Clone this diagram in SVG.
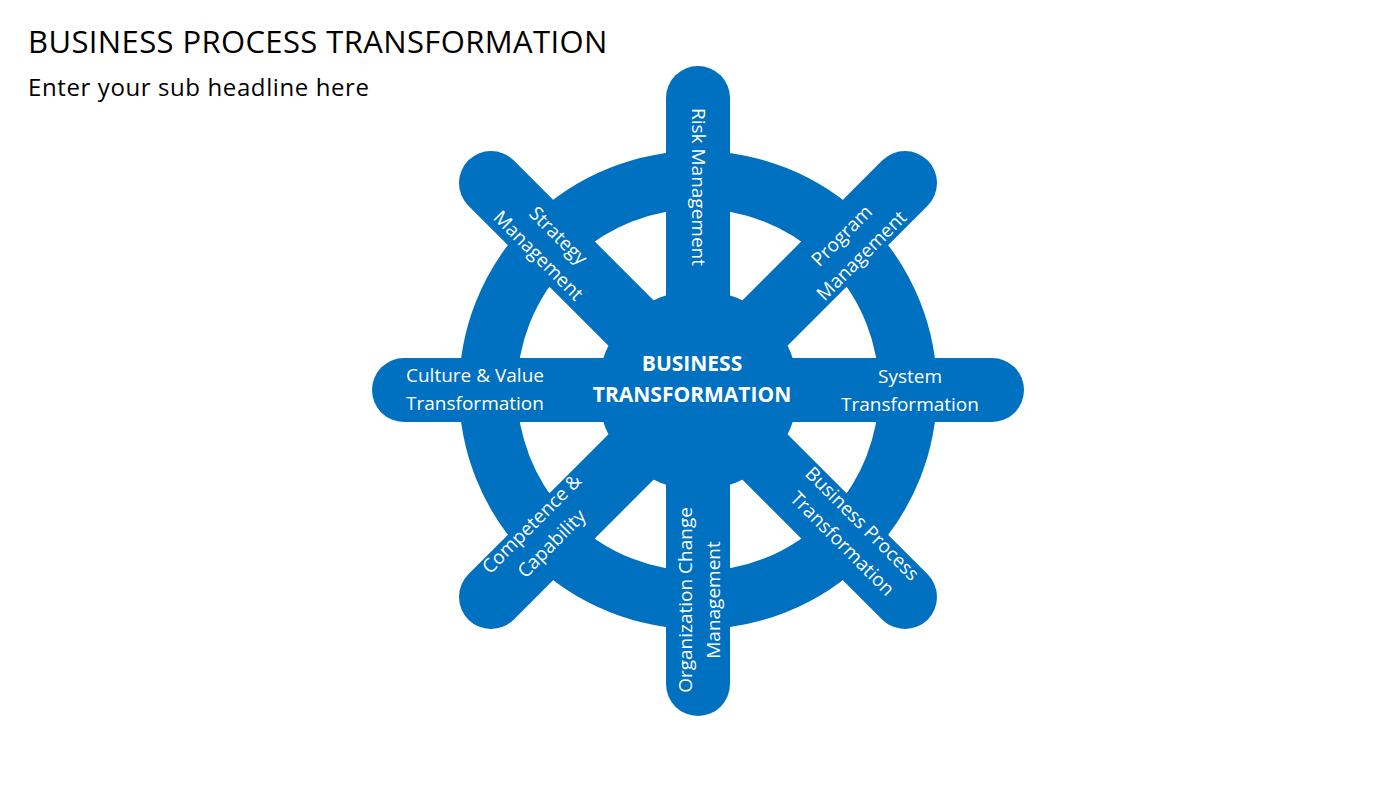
<svg xmlns="http://www.w3.org/2000/svg" width="1400" height="788" viewBox="0 0 1400 788">
<style>
.s{stroke:#0070C0;stroke-width:64;stroke-linecap:round;fill:none}
.t{font-family:"Open Sans","Liberation Sans",sans-serif;font-size:19px;fill:#fff;text-anchor:middle}
.b{font-weight:bold;font-size:21px}
</style>
<rect width="1400" height="788" fill="#fff"/>
<text x="28" y="53" font-family="Open Sans, Liberation Sans, sans-serif" font-size="31" letter-spacing="-0.3" textLength="579" fill="#000">BUSINESS PROCESS TRANSFORMATION</text>
<text x="28" y="96" font-family="Open Sans, Liberation Sans, sans-serif" font-size="24" textLength="341" fill="#000">Enter your sub headline here</text>
<g id="connectors">
<circle cx="698" cy="390" r="210" fill="none" stroke="#0070C0" stroke-width="58"/>
<line class="s" x1="698" y1="98" x2="698" y2="684"/>
<line class="s" x1="404" y1="390" x2="992" y2="390"/>
<line class="s" x1="491" y1="183" x2="905" y2="597"/>
<line class="s" x1="905" y1="183" x2="491" y2="597"/>
</g>
<g id="hub"><circle cx="698" cy="390" r="100" fill="#0070C0"/>
<text class="t b" x="692" y="371">BUSINESS</text><text class="t b" x="692" y="402">TRANSFORMATION</text></g>
<g id="risk"><text class="t" transform="translate(692,187) rotate(90)">Risk Management</text></g>
<g id="org"><text class="t" transform="translate(692,600) rotate(-90)"><tspan x="0" y="0">Organization Change</tspan><tspan x="0" y="28">Management</tspan></text></g>
<g id="culture"><text class="t" x="475" y="382">Culture &amp; Value</text><text class="t" x="475" y="410">Transformation</text></g>
<g id="system"><text class="t" x="910" y="383">System</text><text class="t" x="910" y="411">Transformation</text></g>
<g id="strategy"><text class="t" transform="translate(548,246) rotate(45)"><tspan x="0" y="-8">Strategy</tspan><tspan x="0" y="20">Management</tspan></text></g>
<g id="program"><text class="t" transform="translate(852,246) rotate(-45)"><tspan x="0" y="-8">Program</tspan><tspan x="0" y="20">Management</tspan></text></g>
<g id="competence"><text class="t" transform="translate(542,534) rotate(-45)"><tspan x="0" y="-8">Competence &amp;</tspan><tspan x="0" y="20">Capability</tspan></text></g>
<g id="bpt"><text class="t" transform="translate(852,534) rotate(45)"><tspan x="0" y="-8">Business Process</tspan><tspan x="0" y="20">Transformation</tspan></text></g>
</svg>
